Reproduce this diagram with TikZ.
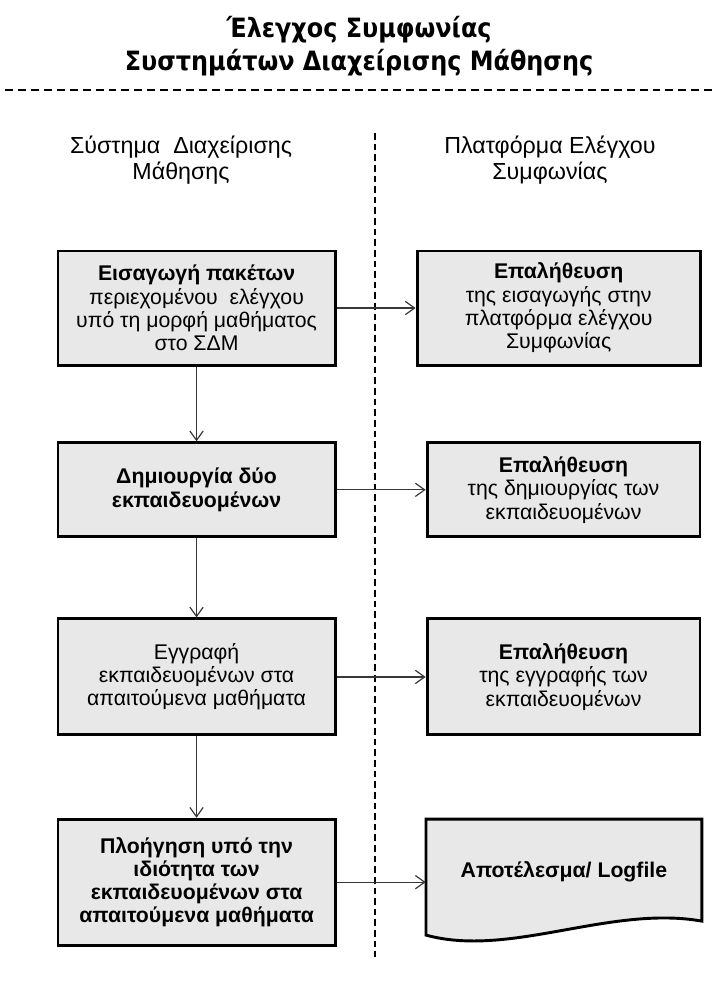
\documentclass[tikz,border=0pt]{standalone}
\usepackage{fontspec}
\setmainfont{Liberation Sans}
\newfontfamily\titlefont{DejaVu Sans}[FakeStretch=0.9]
\usepackage{tikz}
\usetikzlibrary{arrows.meta}
\definecolor{boxfill}{RGB}{232,232,232}
\definecolor{linkgray}{RGB}{55,55,55}

\begin{document}
\begin{tikzpicture}[every node/.style={font=\fontsize{16}{17.5}\selectfont},
    stepbox/.style={draw=black,line width=2.2pt,fill=boxfill,align=center,inner sep=2pt},
    flow/.style={-{Straight Barb[length=7pt,width=10pt]},linkgray,line width=0.9pt}]
  \useasboundingbox (0,0) rectangle (18.84,-26.59);
  % title, separator and the two lanes
  \node[font=\titlefont\bfseries\fontsize{20}{24.5}\selectfont,align=center] (title) at (9.50,-1.22) {Έλεγχος Συμφωνίας\\Συστημάτων Διαχείρισης Μάθησης};
  \draw[line width=1.1pt,dash pattern=on 6pt off 3.75pt] (0.13,-2.38) -- (18.84,-2.38);
  \draw[line width=0.9pt,dash pattern=on 5pt off 3pt] (9.92,-3.52) -- (9.92,-25.32);
  \node[font=\fontsize{17.5}{19.5}\selectfont,align=center] (lms) at (4.79,-4.23) {Σύστημα\ \ Διαχείρισης\\Μάθησης};
  \node[font=\fontsize{17.5}{19.5}\selectfont,align=center] (platform) at (14.55,-4.23) {Πλατφόρμα Ελέγχου\\Συμφωνίας};
  % left lane
  \node[stepbox,minimum width=7.33cm,minimum height=3.02cm] (imp) at (5.20,-8.15) {\textbf{Εισαγωγή πακέτων}\\περιεχομένου\ \ ελέγχου\\υπό τη μορφή μαθήματος\\στο ΣΔΜ};
  \node[stepbox,minimum width=7.33cm,minimum height=2.49cm] (create) at (5.20,-12.96) {\textbf{Δημιουργία δύο}\\\textbf{εκπαιδευομένων}};
  \node[stepbox,minimum width=7.33cm,minimum height=3.07cm] (enrol) at (5.20,-17.91) {Εγγραφή\\εκπαιδευομένων στα\\απαιτούμενα μαθήματα};
  \node[stepbox,minimum width=7.33cm,minimum height=3.33cm] (browse) at (5.20,-23.34) {\textbf{Πλοήγηση υπό την}\\\textbf{ιδιότητα των}\\\textbf{εκπαιδευομένων στα}\\\textbf{απαιτούμενα μαθήματα}};
  % right lane
  \node[stepbox,minimum width=7.49cm,minimum height=3.02cm] (chkimp) at (14.78,-8.15) {\textbf{Επαλήθευση}\\της εισαγωγής στην\\πλατφόρμα ελέγχου\\Συμφωνίας};
  \node[stepbox,minimum width=7.22cm,minimum height=2.49cm] (chkcreate) at (14.91,-12.96) {\textbf{Επαλήθευση}\\της δημιουργίας των\\εκπαιδευομένων};
  \node[stepbox,minimum width=7.22cm,minimum height=3.07cm] (chkenrol) at (14.91,-17.91) {\textbf{Επαλήθευση}\\της εγγραφής των\\εκπαιδευομένων};
  \draw[line width=2.2pt,fill=boxfill] (11.27,-21.67) -- (18.57,-21.67) -- (18.57,-24.37)
    .. controls (16.14,-23.94) and (13.49,-25.35) .. (11.27,-24.74) -- cycle;
  \node[font=\fontsize{16}{17.5}\selectfont\bfseries,minimum width=7.30cm] (res) at (14.92,-23.07) {Αποτέλεσμα/ Logfile};
  % connectors
  \draw[flow] (imp.south) -- (create.north);
  \draw[flow] (create.south) -- (enrol.north);
  \draw[flow] (enrol.south) -- (browse.north);
  \draw[flow] (imp.east) -- (chkimp.west);
  \draw[flow] (create.east) -- (chkcreate.west);
  \draw[flow] (enrol.east) -- (chkenrol.west);
  \draw[flow] (browse.east) -- (browse.east -| res.west);
\end{tikzpicture}
\end{document}
